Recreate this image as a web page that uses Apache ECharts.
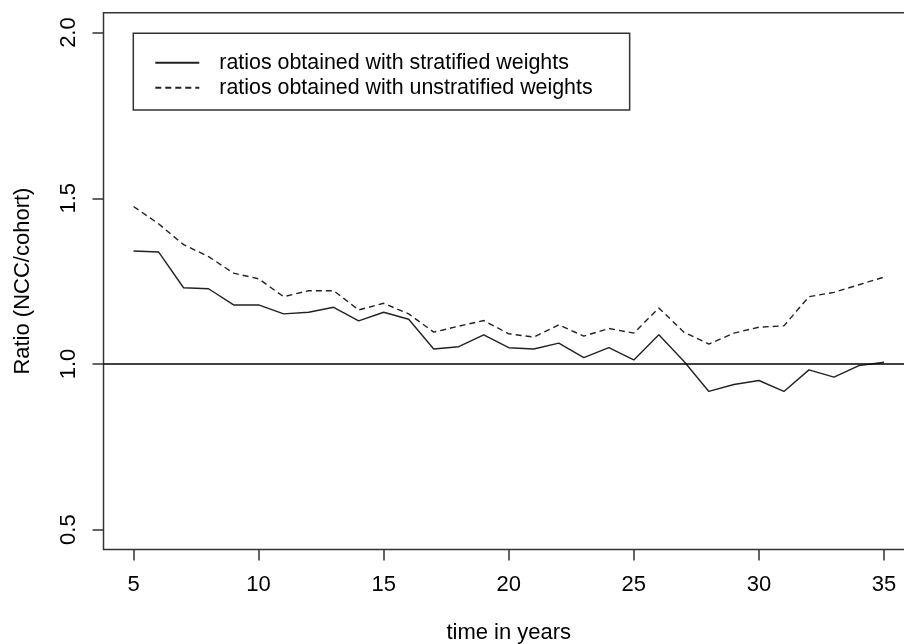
<!DOCTYPE html>
<html>
<head>
<meta charset="utf-8">
<script src="https://cdn.jsdelivr.net/npm/echarts@6/dist/echarts.min.js"></script>
<style>
  html, body { margin: 0; padding: 0; background: #fff; }
  #chart { width: 904px; height: 644px; }
</style>
</head>
<body>
<div id="chart"></div>
<script>
// Follow-up time (years)
const years = [5, 6, 7, 8, 9, 10, 11, 12, 13, 14, 15, 16, 17, 18, 19, 20,
               21, 22, 23, 24, 25, 26, 27, 28, 29, 30, 31, 32, 33, 34, 35];

// NCC / cohort ratios, stratified sampling weights
const stratified = [1.341, 1.338, 1.230, 1.227, 1.178, 1.178, 1.151, 1.156, 1.171, 1.130,
                    1.156, 1.135, 1.045, 1.052, 1.088, 1.049, 1.045, 1.063, 1.019, 1.049,
                    1.012, 1.088, 1.008, 0.917, 0.938, 0.950, 0.917, 0.982, 0.960, 0.995, 1.005];

// NCC / cohort ratios, unstratified sampling weights
const unstratified = [1.475, 1.423, 1.360, 1.324, 1.274, 1.257, 1.203, 1.221, 1.221, 1.163,
                      1.183, 1.151, 1.096, 1.114, 1.131, 1.091, 1.081, 1.118, 1.084, 1.107,
                      1.093, 1.169, 1.096, 1.060, 1.093, 1.111, 1.115, 1.203, 1.216, 1.239, 1.262];

const xTicks = [5, 10, 15, 20, 25, 30, 35];
const yTicks = [0.5, 1.0, 1.5, 2.0];
const seriesNames = ['ratios obtained with stratified weights',
                     'ratios obtained with unstratified weights'];

const FONT = '"Liberation Sans", Arial, sans-serif';
const INK = '#222';

const chart = echarts.init(document.getElementById('chart'), null, { renderer: 'canvas' });

const toPairs = vals => years.map((t, i) => [t, vals[i]]);

chart.setOption({
  animation: false,
  backgroundColor: '#fff',
  textStyle: { fontFamily: FONT },
  grid: {
    left: 103.5, top: 12.7, right: -10, bottom: 94.5,
    outerBoundsMode: 'none',
    containLabel: false,
    show: true, borderColor: '#333', borderWidth: 1.5,
    backgroundColor: 'transparent'
  },
  legend: {
    orient: 'vertical',
    left: 133.3, top: 33.3,
    padding: [18.5, 37, 11.2, 21],
    itemGap: 3,
    itemWidth: 44, itemHeight: 14,
    borderColor: '#333', borderWidth: 1.5,
    backgroundColor: '#fff',
    itemStyle: { opacity: 0 },
    data: seriesNames,
    textStyle: { fontFamily: FONT, fontSize: 21.4, color: '#000', lineHeight: 22, padding: [0, 0, 0, 15] }
  },
  xAxis: {
    type: 'value',
    min: 3.8, max: 36.2,
    name: 'time in years',
    nameLocation: 'middle',
    nameGap: 72,
    nameTextStyle: { fontFamily: FONT, fontSize: 22, color: '#000' },
    axisLine: { show: false },
    splitLine: { show: false },
    axisTick: { show: true, length: 11, customValues: xTicks, lineStyle: { color: '#333', width: 1.5 } },
    axisLabel: { customValues: xTicks, margin: 24, fontFamily: FONT, fontSize: 22, color: '#000' }
  },
  yAxis: {
    type: 'value',
    min: 0.44, max: 2.06,
    name: 'Ratio (NCC/cohort)',
    nameLocation: 'middle',
    nameRotate: 90,
    nameGap: 70,
    nameTextStyle: { fontFamily: FONT, fontSize: 22, color: '#000' },
    axisLine: { show: false },
    splitLine: { show: false },
    axisTick: { show: true, length: 11, customValues: yTicks, lineStyle: { color: '#333', width: 1.5 } },
    axisLabel: {
      customValues: yTicks, rotate: 90, margin: 24,
      fontFamily: FONT, fontSize: 22, color: '#000',
      formatter: v => v.toFixed(1)
    }
  },
  series: [
    {
      name: seriesNames[0],
      type: 'line',
      data: toPairs(stratified),
      symbol: 'none',
      lineStyle: { color: INK, width: 1.4, type: 'solid' },
      itemStyle: { color: INK },
      markLine: {
        silent: true,
        symbol: 'none',
        label: { show: false },
        lineStyle: { color: '#000', width: 1.5, type: 'solid' },
        data: [{ yAxis: 1.0 }]
      }
    },
    {
      name: seriesNames[1],
      type: 'line',
      data: toPairs(unstratified),
      symbol: 'none',
      lineStyle: { color: INK, width: 1.4, type: [6, 4] },
      itemStyle: { color: INK }
    }
  ]
});
</script>
</body>
</html>
